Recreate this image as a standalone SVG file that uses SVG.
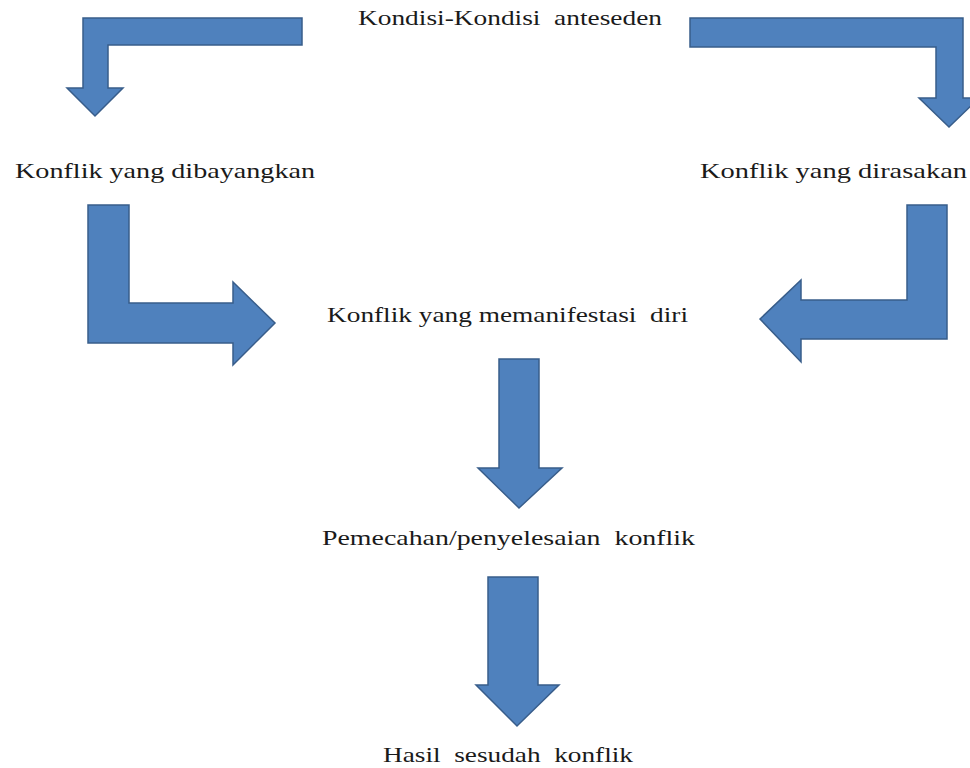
<svg xmlns="http://www.w3.org/2000/svg" width="970" height="768" viewBox="0 0 970 768">
<style>
.lbl{font-family:"Liberation Serif","Times New Roman",serif;font-size:21.5px;fill:#1a1a1a}
.arr{fill:#4f81bd;stroke:#385d8a;stroke-width:1.5;stroke-linejoin:miter}
</style>
<rect width="970" height="768" fill="#ffffff"/>
<g id="connectors">
<path class="arr" d="M302,18 L83,18 L83,88 L67,88 L95,116 L123,88 L108,88 L108,45 L302,45 Z"/>
<path class="arr" d="M690,18 L963,18 L963,98 L979,98 L949,127 L919,98 L936,98 L936,47 L690,47 Z"/>
<path class="arr" d="M88,205 L129,205 L129,303 L233,303 L233,282 L275,323 L233,365 L233,343 L88,343 Z"/>
<path class="arr" d="M947,205 L907,205 L907,300 L801,300 L801,280 L760,319 L801,362 L801,339 L947,339 Z"/>
<path class="arr" d="M499,359 L539,359 L539,468 L562,468 L519,508 L478,468 L499,468 Z"/>
<path class="arr" d="M488,577 L538,577 L538,685 L559,685 L517,726 L476,685 L488,685 Z"/>
</g>
<g id="n1"><text class="lbl" x="358" y="25" textLength="304" lengthAdjust="spacingAndGlyphs" xml:space="preserve">Kondisi-Kondisi  anteseden</text></g>
<g id="n2"><text class="lbl" x="15" y="178" textLength="300" lengthAdjust="spacingAndGlyphs">Konflik yang dibayangkan</text></g>
<g id="n3"><text class="lbl" x="700" y="178" textLength="267" lengthAdjust="spacingAndGlyphs">Konflik yang dirasakan</text></g>
<g id="n4"><text class="lbl" x="327" y="322" textLength="361" lengthAdjust="spacingAndGlyphs" xml:space="preserve">Konflik yang memanifestasi  diri</text></g>
<g id="n5"><text class="lbl" x="322" y="545" textLength="373" lengthAdjust="spacingAndGlyphs" xml:space="preserve">Pemecahan/penyelesaian  konflik</text></g>
<g id="n6"><text class="lbl" x="383" y="762" textLength="250" lengthAdjust="spacingAndGlyphs" xml:space="preserve">Hasil  sesudah  konflik</text></g>
</svg>
